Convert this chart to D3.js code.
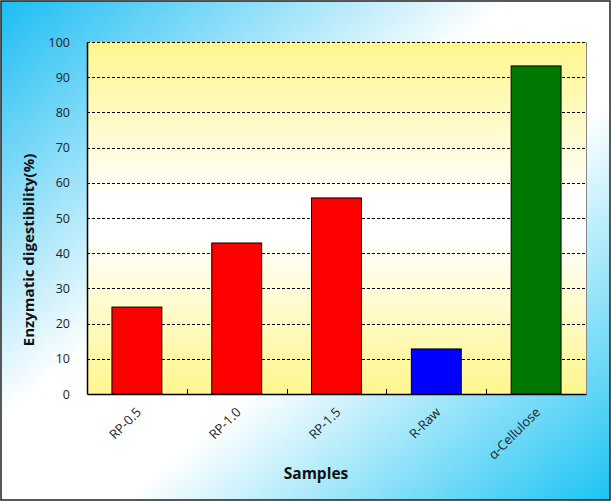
<!DOCTYPE html>
<html><head><meta charset="utf-8">
<script src="https://cdn.jsdelivr.net/npm/d3@7"></script>
<style>body{margin:0;padding:0;overflow:hidden;background:#fff}</style>
</head><body>
<script>
const categories = ["RP-0.5", "RP-1.0", "RP-1.5", "R-Raw", "α-Cellulose"];
const values = [24.7, 42.9, 55.7, 12.8, 93.2];
const colors = ["#ff0000", "#ff0000", "#ff0000", "#0000ff", "#007700"];
const yTicks = [0, 10, 20, 30, 40, 50, 60, 70, 80, 90, 100];

const W = 611, H = 501;
const m = {left: 87, right: 25, top: 42, bottom: 107};
const font = "'Open Sans', 'Noto Sans', sans-serif";

const svg = d3.select("body").append("svg").attr("width", W).attr("height", H);
const defs = svg.append("defs");
const bg = defs.append("linearGradient").attr("id", "bg")
  .attr("x1", "0").attr("y1", "0").attr("x2", "1").attr("y2", "1");
bg.append("stop").attr("offset", "0").attr("stop-color", "#1cbdf3");
bg.append("stop").attr("offset", "0.42").attr("stop-color", "#ffffff");
bg.append("stop").attr("offset", "0.6").attr("stop-color", "#ffffff");
bg.append("stop").attr("offset", "1").attr("stop-color", "#1cc3f3");
const pg = defs.append("linearGradient").attr("id", "pg")
  .attr("x1", "0").attr("y1", "0").attr("x2", "0").attr("y2", "1");
pg.append("stop").attr("offset", "0").attr("stop-color", "#fff68e");
pg.append("stop").attr("offset", "0.45").attr("stop-color", "#ffffff");
pg.append("stop").attr("offset", "0.55").attr("stop-color", "#ffffff");
pg.append("stop").attr("offset", "1").attr("stop-color", "#fff68e");

svg.append("rect").attr("x", 1).attr("y", 1).attr("width", W - 2).attr("height", H - 2)
  .attr("fill", "url(#bg)").attr("stroke", "#222").attr("stroke-width", 1.5);

const x = d3.scaleBand().domain(categories).range([m.left, W - m.right])
  .paddingInner(0.5).paddingOuter(0.25);
const y = d3.scaleLinear().domain([0, 100]).range([H - m.bottom, m.top]);

svg.append("rect").attr("x", m.left).attr("y", m.top)
  .attr("width", W - m.right - m.left).attr("height", H - m.bottom - m.top)
  .attr("fill", "url(#pg)");

// grid
svg.append("g").selectAll("line").data(yTicks.filter(d => d > 0)).join("line")
  .attr("x1", m.left).attr("x2", W - m.right)
  .attr("y1", d => Math.round(y(d)) + 0.5).attr("y2", d => Math.round(y(d)) + 0.5)
  .attr("stroke", "#000").attr("stroke-dasharray", "3,2").attr("stroke-width", 1);

// right border
svg.append("line").attr("x1", W - m.right + 0.5).attr("x2", W - m.right + 0.5)
  .attr("y1", m.top).attr("y2", H - m.bottom).attr("stroke", "#888");

// bars
svg.append("g").selectAll("rect").data(categories).join("rect")
  .attr("x", d => x(d)).attr("width", x.bandwidth())
  .attr("y", (d, i) => y(values[i])).attr("height", (d, i) => y(0) - y(values[i]))
  .attr("fill", (d, i) => colors[i]).attr("stroke", "#000").attr("stroke-width", 1);

// y axis
const ya = svg.append("g").attr("transform", `translate(${m.left},0)`)
  .call(d3.axisLeft(y).tickValues(yTicks).tickSize(0).tickPadding(17));
ya.select(".domain").attr("stroke", "#000").attr("stroke-width", 1.5);
ya.selectAll("text").attr("font-family", font).attr("font-size", 12.5).attr("fill", "#222");

// x axis
const gap = x.step() - x.bandwidth();
const xa = svg.append("g").attr("transform", `translate(0,${H - m.bottom})`)
  .call(d3.axisBottom(x).tickSize(0).tickPadding(0));
xa.select(".domain").attr("stroke", "#000").attr("stroke-width", 1.5);
xa.selectAll(".tick text")
  .attr("font-family", font).attr("font-size", 13).attr("fill", "#222")
  .attr("text-anchor", "end").attr("dy", 0)
  .attr("transform", "translate(5,19) rotate(-45)");
// boundary ticks pointing up
svg.append("g").selectAll("line").data(categories.slice(1)).join("line")
  .attr("x1", d => Math.round(x(d) - gap / 2) + 0.5)
  .attr("x2", d => Math.round(x(d) - gap / 2) + 0.5)
  .attr("y1", H - m.bottom).attr("y2", H - m.bottom - 5)
  .attr("stroke", "#000");

// top dashed border
svg.append("line").attr("x1", m.left).attr("x2", W - m.right)
  .attr("y1", m.top + 0.5).attr("y2", m.top + 0.5)
  .attr("stroke", "#000").attr("stroke-dasharray", "3,2");

// titles
svg.append("text").attr("x", 316).attr("y", 479).attr("text-anchor", "middle")
  .attr("font-family", font).attr("font-weight", "bold").attr("font-size", 15.5)
  .attr("fill", "#111").text("Samples");
svg.append("text").attr("transform", `translate(34,250) rotate(-90)`)
  .attr("text-anchor", "middle")
  .attr("font-family", font).attr("font-weight", "bold").attr("font-size", 15)
  .attr("fill", "#111").text("Enzymatic digestibility(%)");
</script>
</body></html>
